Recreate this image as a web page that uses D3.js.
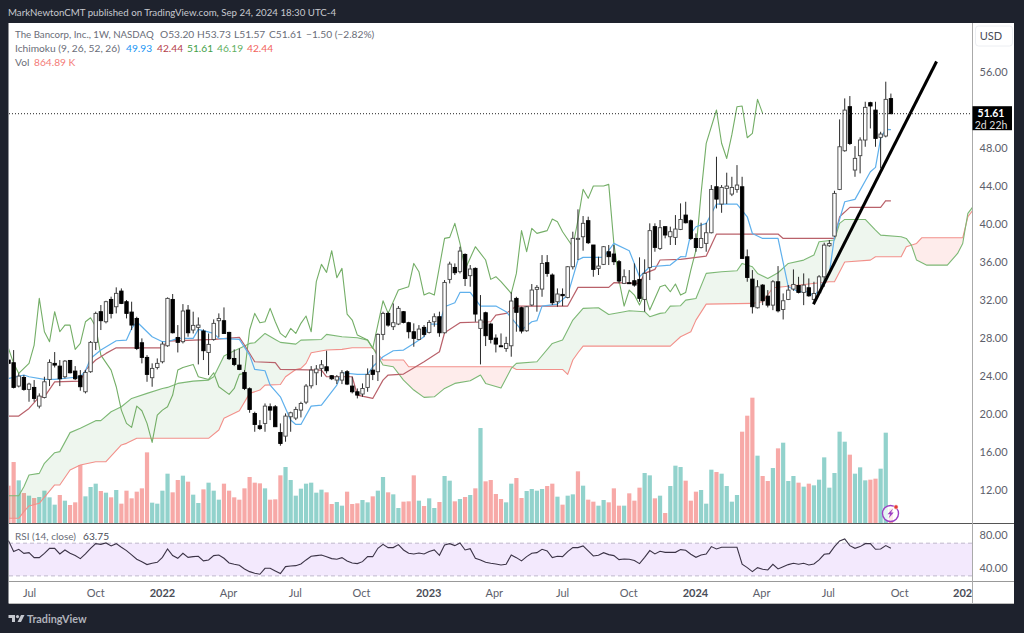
<!DOCTYPE html>
<html>
<head>
<meta charset="utf-8">
<title>The Bancorp, Inc. weekly</title>
<script src="https://cdn.jsdelivr.net/npm/d3@7"></script>
<style>
  html, body { margin: 0; padding: 0; background: #1e222d; }
  svg { display: block; }
  text { font-family: "Lato", "Noto Sans", sans-serif; }
</style>
</head>
<body>
<div id="chart"></div>
<script>
// weekly candles
const opens = [
  25.68,25.40,22.94,23.85,22.59,22.80,20.83,21.74,23.64,25.33,
  25.04,23.92,25.64,24.52,24.03,22.34,24.45,27.54,30.77,29.71,
  32.06,31.29,32.94,31.82,30.73,30.06,27.50,25.96,23.82,24.90,
  25.50,27.18,32.06,28.06,27.61,30.94,28.84,29.12,28.73,26.48,
  27.85,29.82,29.82,28.59,25.85,25.15,24.38,22.66,20.06,18.76,
  19.01,20.76,20.76,18.06,17.67,19.71,19.57,20.41,21.25,22.97,
  24.34,24.80,24.97,24.03,23.57,23.57,24.45,22.94,22.34,22.10,
  22.80,24.62,24.45,28.38,30.59,29.19,29.47,30.77,29.61,28.66,
  27.85,29.12,28.59,29.71,30.24,28.55,34.17,35.43,34.98,36.80,
  34.56,35.33,29.01,30.66,29.47,27.99,27.18,26.90,27.18,32.17,
  31.19,28.76,31.47,33.12,33.15,35.93,34.63,31.82,32.59,32.27,
  35.50,38.38,38.66,40.35,37.79,35.33,35.75,37.08,36.84,36.03,
  33.75,33.82,34.03,34.17,32.06,35.43,39.72,37.43,39.72,38.66,
  38.59,39.43,40.94,40.34,38.48,37.53,37.96,39.08,43.92,42.10,
  43.75,43.15,43.64,43.92,36.55,34.20,31.18,33.57,32.41,31.46,
  33.92,31.00,32.06,33.15,33.53,32.80,33.29,32.06,32.76,34.44,
  37.71,38.73,43.64,47.71,52.35,45.68,47.19,48.84,52.77,51.99,
  49.12,49.26,53.20];
const highs = [
  26.73,26.73,24.27,24.10,23.29,23.57,22.17,23.92,25.75,26.52,
  25.68,25.68,25.68,25.04,24.62,24.62,27.68,30.77,31.47,31.92,
  32.35,33.33,33.22,32.00,31.82,30.24,27.96,26.20,25.33,25.85,
  27.61,32.27,32.63,29.36,31.57,31.47,30.77,30.17,28.91,28.48,
  29.96,30.59,31.22,28.66,26.80,26.90,24.62,22.80,20.24,19.36,
  21.11,21.11,20.94,19.01,20.06,20.24,20.76,21.29,23.15,25.04,
  25.15,25.68,26.66,24.10,24.10,24.62,24.62,23.92,22.69,23.22,
  24.80,26.20,28.48,30.77,30.77,31.64,31.36,30.84,29.71,29.54,
  29.36,29.36,29.89,30.59,30.77,34.10,36.03,35.85,37.61,36.91,
  35.68,35.43,32.52,30.77,29.61,28.38,28.48,28.13,32.80,32.34,
  31.29,31.36,33.68,33.57,36.73,36.73,34.80,33.22,33.22,35.57,
  39.19,41.54,40.84,40.77,37.79,36.56,37.68,37.79,37.79,36.21,
  35.22,35.15,35.85,36.49,36.28,40.07,40.07,40.42,39.72,39.72,
  40.94,42.17,42.34,40.48,39.01,40.13,40.13,44.10,47.08,44.10,
  45.40,44.97,46.20,44.97,37.32,35.15,34.09,33.67,33.04,34.09,
  35.57,32.69,33.57,35.22,34.44,34.80,34.27,33.92,34.62,38.03,
  38.31,43.50,51.01,53.22,53.47,48.20,49.12,52.87,52.87,52.87,
  49.71,54.98,53.73];
const lows = [
  24.97,22.69,22.80,22.45,21.29,21.29,20.59,21.64,22.94,24.90,
  22.94,23.75,24.27,23.57,22.45,22.17,24.34,26.73,28.84,29.54,
  30.06,30.59,31.57,30.06,28.84,26.73,25.33,23.39,22.87,24.69,
  25.33,27.08,28.48,26.48,27.43,28.13,28.48,25.22,25.68,24.10,
  27.71,28.06,28.48,25.68,25.04,24.62,22.52,20.13,18.13,18.31,
  18.13,19.36,18.66,16.66,17.08,18.13,19.36,19.64,21.04,22.69,
  23.04,23.92,24.27,23.57,23.15,23.15,23.04,22.17,21.64,21.81,
  22.34,23.57,23.47,27.78,29.19,28.84,29.36,29.54,27.96,27.08,
  27.78,28.13,28.48,29.19,28.13,28.48,33.75,34.63,34.80,33.47,
  33.40,29.71,25.22,27.15,27.43,26.48,27.08,26.55,26.03,28.66,
  28.48,28.66,31.36,30.77,32.34,34.45,31.47,31.29,31.36,32.17,
  35.22,36.21,37.19,37.89,34.45,34.63,35.68,35.68,35.68,33.75,
  33.68,33.68,33.40,31.82,30.77,34.10,37.08,37.26,38.49,37.79,
  37.79,39.36,40.06,38.31,37.08,37.43,37.08,39.01,41.64,41.18,
  42.10,42.94,43.29,36.31,33.92,30.58,31.11,31.46,31.22,30.93,
  30.69,29.95,31.99,32.97,32.69,31.46,32.34,31.92,32.69,33.39,
  37.60,38.66,43.57,47.61,48.31,44.97,45.33,48.13,50.06,48.13,
  45.85,49.12,51.57];
const closes = [
  25.33,22.80,23.99,22.59,23.15,21.64,21.89,23.39,25.43,25.15,
  23.71,25.57,24.34,23.71,22.87,24.38,27.54,30.59,29.82,31.82,
  30.59,32.70,31.64,30.59,29.36,26.90,25.96,24.17,24.80,25.33,
  27.36,32.17,28.55,27.54,30.84,28.55,29.33,29.36,26.66,27.33,
  29.54,30.06,28.48,25.82,25.22,24.69,22.69,20.48,18.90,18.48,
  20.83,20.41,18.66,16.90,19.78,20.13,20.48,21.11,22.94,24.62,
  24.73,25.18,24.55,23.71,23.92,24.34,23.15,22.34,21.99,22.69,
  24.17,24.17,28.38,30.59,29.36,29.61,31.12,29.64,28.66,27.96,
  28.94,28.38,29.64,30.24,28.55,33.85,35.78,34.87,37.15,34.26,
  35.26,30.52,29.89,28.24,27.85,27.36,27.08,27.43,31.89,30.70,
  28.73,31.29,33.05,33.33,35.85,34.80,31.71,32.63,32.45,35.50,
  38.49,38.49,40.07,38.03,35.22,35.57,37.61,36.56,36.03,34.00,
  34.45,33.75,33.57,32.17,34.80,39.30,37.54,39.61,38.84,39.19,
  39.47,40.48,40.13,38.48,37.53,38.48,39.08,43.64,42.62,43.85,
  43.99,43.85,44.10,36.38,34.37,31.29,33.39,31.92,31.46,33.92,
  30.86,31.92,33.04,33.64,32.80,33.57,32.44,32.69,34.44,37.78,
  37.95,43.22,48.13,51.99,48.48,46.91,48.84,52.28,52.42,49.01,
  49.47,53.12,51.61];

// volume in thousands, direction U/D per week
const volumes = [
  2240,3660,2560,1800,1640,1500,1560,1940,1540,1100,
  1680,1340,1080,1240,3480,1600,2160,2360,1920,1820,
  1540,1980,1160,1940,1480,1880,2080,4240,1220,1160,
  1940,2960,1840,2580,2840,2480,1700,1200,2020,2420,
  1940,1400,2360,1940,1540,1400,2080,2760,2420,2380,
  2080,1400,1420,2860,3360,2580,1640,2060,2360,2420,
  1820,2000,1840,1140,1260,1040,1880,1140,1180,1380,
  1240,1600,1940,2760,1840,1720,900,1280,1300,2860,
  1340,1020,1480,900,1260,2820,2540,1300,1440,1560,
  1680,2080,5700,2500,2580,1740,
  1440,1240,2360,2700,1500,1920,2040,1940,2040,2220,
  2360,1580,1100,1640,1720,3100,2240,1400,1280,1040,
  1380,1240,2080,1040,1040,1780,1340,2120,3000,2860,
  1480,1640,600,2220,3440,3360,2540,1340,1880,1980,
  1160,3200,3060,2960,2220,1280,1680,5480,6440,7520,
  4040,2820,2520,3300,4480,4820,2520,2820,2420,2180,
  2360,2260,2600,3940,2120,3000,5480,4880,4100,2960,
  3340,2560,2600,2660,3260,5420,864.89];
const volumeDirs = (
  "DDUDUDUUUU" + "DUDDDUUUDU" + "DUDDDDDDUU" + "UUDDUDUUDU" + "UUDDDDDDDD" +
  "UDDDUUUUUU" + "UUDDUUDDDU" + "UDUUDUUDDD" + "UDUUDUUDUD" + "UDUDDD" +
  "DUUDDUUUUD" + "DUDUUDUDDU" + "UDDDUDDDUU" + "DUDUUUDDDU" + "UUDUUUUDDD" +
  "UDDUDUUUDU" + "DUUUUUUUDU" + "UUDDUUD").split("");

// Ichimoku lines: week number and price at each corner of the line
const tenkanWeeks = [0,3,4,7,9,14,15,16,18,21,23,24,25,27,28,30,31,33,36,37,40,41,45,47,48,50,51,53,55,56,57,59,61,64,65,68,70,71,73,75,77,79,81,82,84,85,87,88,90,92,95,97,100,102,103,104,107,109,111,112,116,118,121,123,125,129,131,132,133,134,136,138,142,144,145,147,150,152,154,156,157,160,161,163,165,168,169,170,171,172];
const tenkanValues = [23.75,24.10,23.92,23.64,23.64,23.92,24.55,25.85,26.73,27.71,27.78,29.01,29.71,28.66,28.13,27.61,27.61,27.96,27.96,28.91,28.48,27.96,27.85,26.20,24.69,24.55,23.04,21.81,19.36,18.90,18.90,20.83,20.94,23.04,24.34,24.17,24.17,24.97,26.03,26.66,26.73,27.43,28.13,29.47,29.47,31.29,31.71,32.80,32.80,31.36,31.36,30.77,28.84,29.71,29.82,31.36,31.57,32.52,36.21,36.49,36.49,37.96,37.19,34.45,35.50,35.68,36.56,36.55,39.00,39.71,40.06,42.10,42.10,40.76,39.00,38.48,38.48,33.39,32.87,32.87,32.34,34.80,38.66,42.34,42.59,45.50,45.96,49.01,49.96,49.93];
const kijunWeeks = [0,2,4,6,7,9,14,15,17,19,21,30,31,40,45,46,48,52,53,61,62,65,67,68,71,73,74,77,81,84,85,88,94,95,97,99,109,111,117,118,123,124,126,127,131,136,138,150,151,161,162,164,170,171,172];
const kijunValues = [19.78,19.78,20.59,21.81,21.81,23.39,23.46,24.62,25.68,26.38,26.97,26.97,27.68,27.85,28.06,27.26,25.50,25.40,24.69,24.62,23.92,23.92,23.92,21.99,21.64,23.57,24.10,24.20,25.50,26.55,28.55,29.61,29.71,30.41,30.59,31.36,31.36,33.33,33.33,33.82,33.75,34.80,35.22,36.21,36.28,36.62,38.94,38.94,38.48,38.48,40.76,41.75,41.75,42.45,42.44];
const chikouWeeks = [0,1,2,3,4,5,6,7,8,9,10,11,12,13,14,15,16,17,18,20,21,22,23,24,25,26,27,28,29,30,31,32,33,34,36,37,39,40,41,43,44,45,46,47,48,49,50,51,52,53,54,55,56,57,58,59,60,61,62,63,64,65,66,67,68,70,71,73,74,76,78,79,80,81,82,83,85,86,87,88,89,91,93,94,95,96,98,99,100,101,102,103,105,106,107,108,110,111,112,113,114,116,117,118,119,120,121,122,123,124,125,127,128,129,130,131,132,133,134,135,136,138,139,140,141,142,143,144,145,146,147];
const chikouValues = [26.90,25.33,24.27,24.80,25.33,27.26,32.17,28.66,27.61,30.77,28.66,29.36,29.36,26.80,27.43,29.71,30.13,29.19,26.20,24.62,22.87,20.41,19.01,18.59,20.83,20.34,19.01,17.01,19.88,20.41,20.76,21.99,24.62,24.90,25.22,23.92,23.64,24.34,22.87,22.06,22.69,24.17,24.27,28.84,30.59,29.61,29.71,31.12,29.71,28.48,28.06,29.01,28.48,29.54,30.31,28.66,33.93,35.75,34.91,37.19,34.35,35.33,30.52,29.89,28.31,27.78,26.90,31.92,30.59,33.05,33.40,35.85,34.98,32.52,32.77,32.52,38.49,38.59,40.07,37.96,35.22,37.61,36.21,34.17,34.45,33.93,32.70,34.80,39.30,37.08,39.54,39.01,39.30,40.52,40.24,39.19,37.61,40.42,43.65,42.70,44.00,44.00,44.17,37.96,34.10,31.36,33.05,32.52,31.47,32.70,30.94,33.40,33.57,32.87,33.68,32.52,32.80,35.15,37.25,43.22,48.49,52.00,48.50,46.90,49.40,52.35,52.42,49.08,49.54,53.12,51.64];
const spanAWeeks = [0,2,3,4,6,7,9,10,12,14,17,18,20,22,24,27,30,31,33,36,39,40,42,44,45,47,48,50,52,53,56,57,61,62,65,68,70,71,73,75,77,79,81,83,85,87,90,92,93,96,98,99,103,106,108,110,112,115,117,120,121,124,125,127,128,129,131,132,134,136,139,142,143,145,146,148,150,152,155,157,158,161,162,163,167,169,170,174,175,176,177,179,183,185,186,187,188];
const spanAValues = [11.40,11.40,12.35,13.58,13.75,14.81,15.93,16.04,18.04,18.49,19.30,19.30,20.24,20.76,21.64,22.17,22.69,22.80,23.22,23.46,23.57,23.92,26.10,26.66,26.90,27.43,27.50,28.48,27.85,27.54,27.36,27.78,27.85,28.38,28.13,28.03,27.78,26.97,25.15,24.97,23.57,22.52,21.75,21.81,22.69,23.22,23.50,24.10,23.22,22.73,24.80,25.33,25.50,27.43,27.78,29.89,31.12,31.19,30.48,30.77,30.87,30.77,30.24,30.59,30.66,31.36,31.40,31.99,32.16,34.80,34.97,35.08,35.85,35.50,34.80,34.27,34.87,35.85,36.20,36.73,38.13,38.31,40.06,40.48,40.48,39.36,38.83,38.66,38.48,37.78,36.20,35.67,35.67,36.90,37.95,41.11,41.82];
const spanBWeeks = [0,2,3,4,6,9,10,12,14,17,19,22,23,25,39,41,42,45,47,49,50,53,54,56,57,58,59,62,65,67,71,73,77,78,98,99,108,109,110,111,112,129,131,133,134,136,145,147,149,151,160,161,163,168,169,174,175,177,178,186,187,188];
const spanBValues = [9.02,9.02,9.72,10.32,10.60,12.53,12.53,14.11,14.63,14.98,14.98,16.74,16.91,17.44,17.44,18.32,19.55,20.35,22.17,22.52,23.04,23.11,23.92,24.69,24.80,25.33,26.45,26.73,26.80,26.97,26.97,25.68,25.68,24.97,24.97,24.69,24.69,24.17,25.68,26.45,27.15,27.15,28.13,28.65,29.88,31.57,31.64,31.81,33.29,33.39,33.92,33.92,36.00,36.20,36.55,36.55,37.60,37.95,38.55,38.55,40.76,41.46];

const rsiValues = [
  73.1,59.7,62.5,57.6,58.4,52.3,52.3,57.6,63.7,63.7,
  56.8,61.7,57.6,54.8,51.1,56.8,63.7,69.4,68.6,70.3,
  66.6,69.4,65.0,60.9,55.6,50.3,47.4,43.8,45.4,46.6,
  52.7,62.9,54.8,51.5,57.6,52.7,53.5,54.0,48.3,49.5,
  54.8,55.6,51.5,45.8,44.2,43.0,38.5,35.2,33.2,32.0,
  39.3,39.3,36.0,32.8,41.3,42.1,42.5,44.6,49.5,54.0,
  54.8,55.6,53.5,51.1,50.3,52.3,48.3,45.8,45.0,47.4,
  53.5,53.5,63.7,68.6,64.6,64.6,68.2,61.7,57.6,56.8,
  58.0,56.8,59.7,61.7,55.2,67.8,69.4,67.0,70.3,61.7,
  63.3,51.5,49.5,46.6,45.4,44.6,
  43.4,44.2,55.6,52.3,48.3,53.5,57.6,58.4,62.5,60.5,
  52.3,54.0,53.5,59.7,64.6,64.6,66.6,60.5,54.4,55.2,
  58.4,56.0,54.8,49.9,50.7,50.3,48.7,45.0,52.7,60.9,
  56.8,60.1,58.8,58.8,58.8,62.1,61.3,56.4,52.7,55.6,
  56.8,65.8,62.9,65.0,65.0,65.0,65.0,44.2,40.1,35.2,
  40.1,38.0,37.2,44.2,38.5,41.3,43.8,45.4,44.2,45.4,
  43.4,44.6,49.5,56.4,57.2,65.8,72.7,75.2,67.0,63.7,
  65.8,69.4,69.4,62.5,62.9,67.0,63.75];

// hand drawn trend line
const trendWeeks = [156.9, 180.9];
const trendPrices = [31.55, 57.1];

const priceTicks = [56, 48, 44, 40, 36, 32, 28, 24, 20, 16, 12];
const rsiTicks = [80, 40];
const timeTickWeeks = [4, 16.9, 29.9, 42.8, 55.8, 68.7, 81.8, 94.6, 107.9, 120.8, 133.8, 146.7, 159.7, 173.6, 186.5];
const timeTickLabels = ["Jul", "Oct", "2022", "Apr", "Jul", "Oct", "2023", "Apr", "Jul", "Oct", "2024", "Apr", "Jul", "Oct", "2025"];

const lastClose = 51.61;

const width = 1024, height = 633;

const svg = d3.select("#chart").append("svg")
    .attr("width", width)
    .attr("height", height);

const defs = svg.append("defs");
defs.append("clipPath").attr("id", "plotClip").append("rect")
    .attr("x", 9).attr("y", 24).attr("width", 963).attr("height", 499);
defs.append("clipPath").attr("id", "timeClip").append("rect")
    .attr("x", 9).attr("y", 582).attr("width", 963).attr("height", 21);

// scales
const x = d3.scaleLinear().domain([0, 172]).range([8.5, 890.9]);
const y = d3.scaleLinear().domain([56, 12]).range([72, 490]);
const yVol = d3.scaleLinear().domain([0, 7520]).range([523, 523 - 125.3]);
const yRsi = d3.scaleLinear().domain([80, 40]).range([535, 567.7]);

// white panel and separators
svg.append("rect").attr("x", 8.5).attr("y", 23).attr("width", 1005.5).attr("height", 580.5).attr("fill", "#fff");

const plot = svg.append("g").attr("clip-path", "url(#plotClip)");

// volume
const weeks = d3.range(closes.length);
plot.append("g").selectAll("rect").data(weeks).join("rect")
    .attr("x", d => x(d) - 2.1)
    .attr("width", 4.2)
    .attr("y", d => yVol(volumes[d]))
    .attr("height", d => yVol(0) - yVol(volumes[d]))
    .attr("fill", d => volumeDirs[d] === "U" ? "#26a69a" : "#ef5350")
    .attr("fill-opacity", 0.5);

// cloud
const spanA = d3.scaleLinear().domain(spanAWeeks).range(spanAValues);
const spanB = d3.scaleLinear().domain(spanBWeeks).range(spanBValues);
const cloudGrid = d3.range(0, 188.01, 0.25);
const cloudArea = d3.area()
    .x(d => x(d))
    .y0(d => y(spanB(d)))
    .y1(d => y(spanA(d)));
plot.append("path")
    .attr("d", cloudArea.defined(d => spanA(d) >= spanB(d))(cloudGrid))
    .attr("fill", "#43a047").attr("fill-opacity", 0.09);
plot.append("path")
    .attr("d", cloudArea.defined(d => spanA(d) < spanB(d))(cloudGrid))
    .attr("fill", "#f44336").attr("fill-opacity", 0.1);

// ichimoku lines
const priceLine = d3.line().x(d => x(d[0])).y(d => y(d[1]));
function drawLine(ws, vs, color, w) {
    plot.append("path")
        .attr("d", priceLine(d3.zip(ws, vs)))
        .attr("fill", "none")
        .attr("stroke", color)
        .attr("stroke-width", w)
        .attr("stroke-linejoin", "round");
}
drawLine(spanBWeeks, spanBValues, "#f2908a", 1.1);
drawLine(spanAWeeks, spanAValues, "#7db875", 1.1);
drawLine(chikouWeeks, chikouValues, "#74ae67", 1.1);
drawLine(kijunWeeks, kijunValues, "#b9616a", 1.2);
drawLine(tenkanWeeks, tenkanValues, "#5fb0ec", 1.2);

// candles
const candles = plot.append("g");
candles.selectAll("line").data(weeks).join("line")
    .attr("x1", d => x(d)).attr("x2", d => x(d))
    .attr("y1", d => y(highs[d])).attr("y2", d => y(lows[d]))
    .attr("stroke", "#2a2a2a")
    .attr("stroke-width", 1);
candles.selectAll("rect").data(weeks).join("rect")
    .attr("x", d => x(d) - 1.7)
    .attr("width", 3.4)
    .attr("y", d => y(Math.max(opens[d], closes[d])))
    .attr("height", d => Math.max(1, Math.abs(y(opens[d]) - y(closes[d]))))
    .attr("fill", d => closes[d] >= opens[d] ? "#fff" : "#000")
    .attr("stroke", d => closes[d] >= opens[d] ? "#444" : "#000")
    .attr("stroke-width", 0.9);

// trend line
plot.append("path")
    .attr("d", priceLine(d3.zip(trendWeeks, trendPrices)))
    .attr("stroke", "#000")
    .attr("stroke-width", 3)
    .attr("fill", "none");

// last price dotted line
plot.append("line")
    .attr("x1", 9).attr("x2", 972)
    .attr("y1", y(lastClose)).attr("y2", y(lastClose))
    .attr("stroke", "#222")
    .attr("stroke-dasharray", "1,2");

// lightning badge
const badgeX = 890.5, badgeY = 513.5;
plot.append("circle").attr("cx", badgeX).attr("cy", badgeY).attr("r", 8)
    .attr("fill", "#fff").attr("fill-opacity", 0.75)
    .attr("stroke", "#9c3fc4").attr("stroke-width", 1.4);
plot.append("path")
    .attr("d", `M${badgeX + 2.5},${badgeY - 5}L${badgeX - 3},${badgeY + 0.8}L${badgeX - 0.3},${badgeY + 0.8}L${badgeX - 2},${badgeY + 5}L${badgeX + 3.2},${badgeY - 1}L${badgeX + 0.5},${badgeY - 1}Z`)
    .attr("fill", "#9c3fc4");
plot.append("circle").attr("cx", badgeX + 5.5).attr("cy", badgeY - 6.5).attr("r", 2.2)
    .attr("fill", "#e53935").attr("stroke", "#fff").attr("stroke-width", 0.6);

// RSI pane
svg.append("rect")
    .attr("x", 9).attr("width", 963)
    .attr("y", yRsi(70)).attr("height", yRsi(30) - yRsi(70))
    .attr("fill", "#8e24f0").attr("fill-opacity", 0.1);
[70, 30].forEach(v => {
    svg.append("line")
        .attr("x1", 9).attr("x2", 972)
        .attr("y1", yRsi(v)).attr("y2", yRsi(v))
        .attr("stroke", "#bfb8cc")
        .attr("stroke-dasharray", "4,3");
});
svg.append("path")
    .attr("d", d3.line().x((d, i) => x(i)).y(d => yRsi(d))(rsiValues))
    .attr("fill", "none")
    .attr("stroke", "#3b3346")
    .attr("stroke-width", 1.1);

// separators
svg.append("line").attr("x1", 9).attr("x2", 1014).attr("y1", 523.5).attr("y2", 523.5).attr("stroke", "#555");
svg.append("line").attr("x1", 9).attr("x2", 1014).attr("y1", 581.5).attr("y2", 581.5).attr("stroke", "#999");
svg.append("line").attr("x1", 972.5).attr("x2", 972.5).attr("y1", 23).attr("y2", 603).attr("stroke", "#aaa");
svg.append("line").attr("x1", 9).attr("x2", 1014).attr("y1", 603.5).attr("y2", 603.5).attr("stroke", "#bbb");

// axes
function styleAxis(g) {
    g.select(".domain").remove();
    g.selectAll(".tick line").remove();
    g.selectAll("text")
        .attr("fill", "#5d606b")
        .style("font-size", "11px");
}
svg.append("g")
    .attr("transform", "translate(973,0)")
    .call(d3.axisRight(y).tickValues(priceTicks).tickFormat(d3.format(".2f")).tickSizeInner(0).tickPadding(6.5))
    .call(styleAxis);
svg.append("g")
    .attr("transform", "translate(973,0)")
    .call(d3.axisRight(yRsi).tickValues(rsiTicks).tickFormat(d3.format(".2f")).tickSizeInner(0).tickPadding(6.5))
    .call(styleAxis);
const timeAxis = svg.append("g")
    .attr("clip-path", "url(#timeClip)")
    .append("g")
    .attr("transform", "translate(0,581)")
    .call(d3.axisBottom(x).tickValues(timeTickWeeks)
        .tickFormat((d, i) => timeTickLabels[i]).tickPadding(2))
    .call(styleAxis);
timeAxis.selectAll("text")
    .filter(d => /^\d+$/.test(timeTickLabels[timeTickWeeks.indexOf(d)]))
    .attr("fill", "#4a4d57")
    .style("font-weight", 700);

// USD box
svg.append("rect").attr("x", 975.5).attr("y", 26).attr("width", 37).attr("height", 20).attr("rx", 3)
    .attr("fill", "#fff").attr("stroke", "#eceef2");
svg.append("text").attr("x", 991).attr("y", 39.5).attr("text-anchor", "middle")
    .attr("fill", "#4a4d57").style("font-size", "11px").text("USD");

// last price tag
svg.append("rect").attr("x", 972.5).attr("y", y(lastClose) - 7.5).attr("width", 39.5).attr("height", 24).attr("fill", "#000");
svg.append("text").attr("x", 991).attr("y", y(lastClose) + 3.2).attr("text-anchor", "middle")
    .attr("fill", "#fff").style("font-size", "10.5px").style("font-weight", 700).text("51.61");
svg.append("text").attr("x", 991).attr("y", y(lastClose) + 15).attr("text-anchor", "middle")
    .attr("fill", "#ddd").style("font-size", "10.5px").text("2d 22h");

// header and legend
svg.append("text").attr("x", 8).attr("y", 15.5)
    .attr("fill", "#c7c9cf").style("font-size", "9.7px")
    .text("MarkNewtonCMT published on TradingView.com, Sep 24, 2024 18:30 UTC-4");

function legend(px, py, color, label, size) {
    svg.append("text").attr("x", px).attr("y", py)
        .attr("fill", color).style("font-size", (size || 10.2) + "px").text(label);
}
const greyText = "#6a6d78";
legend(15, 38, greyText, "The Bancorp, Inc., 1W, NASDAQ", 9.7);
legend(160, 38, greyText, "O53.20");
legend(197, 38, greyText, "H53.73");
legend(234, 38, greyText, "L51.57");
legend(269, 38, greyText, "C51.61");
legend(306, 38, greyText, "\u22121.50 (\u22122.82%)");
legend(15, 52, greyText, "Ichimoku (9, 26, 52, 26)");
legend(126, 52, "#2196f3", "49.93");
legend(157, 52, "#b5404a", "42.44");
legend(187, 52, "#43a047", "51.61");
legend(217, 52, "#5fb063", "46.19");
legend(247, 52, "#f2635c", "42.44");
legend(15, 66, greyText, "Vol");
legend(34, 66, "#f47c78", "864.89 K");
legend(15, 539.5, greyText, "RSI (14, close)", 10);
legend(83, 539.5, "#4a4d57", "63.75");

// footer logo
const logoColor = "#c5c8cf";
svg.append("path")
    .attr("d", "M8.5,615H15V622H12V618H8.5Z M21,615H24.5L21,622H17.5Z")
    .attr("fill", logoColor);
svg.append("circle").attr("cx", 17.5).attr("cy", 616.6).attr("r", 1.6).attr("fill", logoColor);
svg.append("text").attr("x", 27).attr("y", 622.5)
    .attr("fill", "#b0b3bb").style("font-size", "10.8px").style("font-weight", 700)
    .text("TradingView");
</script>
</body>
</html>
